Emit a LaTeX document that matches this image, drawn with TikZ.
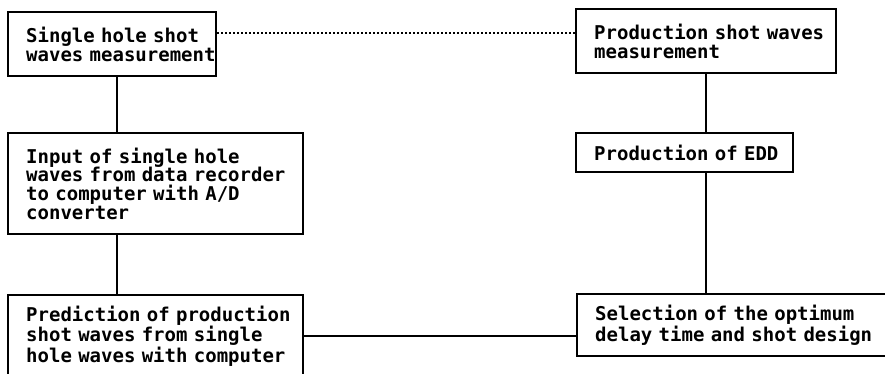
\documentclass[tikz,border=0pt]{standalone}
\usepackage{fontspec}
\newfontfamily\boxfont{DejaVu Sans Mono}
\begin{document}
\begin{tikzpicture}[x=1pt,y=-1pt,
  stepbox/.style={draw, line width=2.4pt, rectangle, anchor=north west,
    inner xsep=18pt, inner ysep=2pt, align=left,
    font=\boxfont\bfseries\fontsize{19}{18.8}\selectfont},
  link/.style={line width=2.4pt},
  dots/.style={line width=2pt, dotted}]
\useasboundingbox (0,0) rectangle (885,373);
\clip (0,0) rectangle (885,373);

% left column
\node[stepbox, minimum width=208pt, minimum height=64pt, text width=172pt] (b1) at (7,11)
  {\mbox{Single hole shot}\\\mbox{waves measurement}};
\node[stepbox, minimum width=295pt, minimum height=101pt, text width=259pt] (b3) at (7,132)
  {\mbox{Input of single hole}\\\mbox{waves from data recorder}\\\mbox{to computer with A/D}\\\mbox{converter}};
\node[stepbox, minimum width=295pt, minimum height=82pt, text width=259pt] (b5) at (7,294)
  {\mbox{Prediction of production}\\\mbox{shot waves from single}\\\mbox{hole waves with computer}};

% right column
\node[stepbox, minimum width=260pt, minimum height=64pt, text width=224pt] (b2) at (575,8)
  {\mbox{Production shot waves}\\\mbox{measurement}};
\node[stepbox, minimum width=217pt, minimum height=39pt, text width=181pt] (b4) at (575,132)
  {\mbox{Production of EDD}};
\node[stepbox, minimum width=316pt, minimum height=62pt, text width=280pt] (b6) at (576,293)
  {\mbox{Selection of the optimum}\\\mbox{delay time and shot design}};

% connectors
\coordinate (lx) at (117,0);
\draw[link] (b1.south -| lx) -- (b3.north -| lx);
\draw[link] (b3.south -| lx) -- (b5.north -| lx);
\draw[link] (b2.south) -- (b4.north -| b2.south);
\draw[link] (b4.south -| b2.south) -- (b6.north -| b2.south);
\draw[link] (b5.east) -- (b5.east -| b6.west);
\draw[dots] ([yshift=11pt]b1.east) -- ([yshift=11pt]b1.east -| b2.west);
\end{tikzpicture}
\end{document}
